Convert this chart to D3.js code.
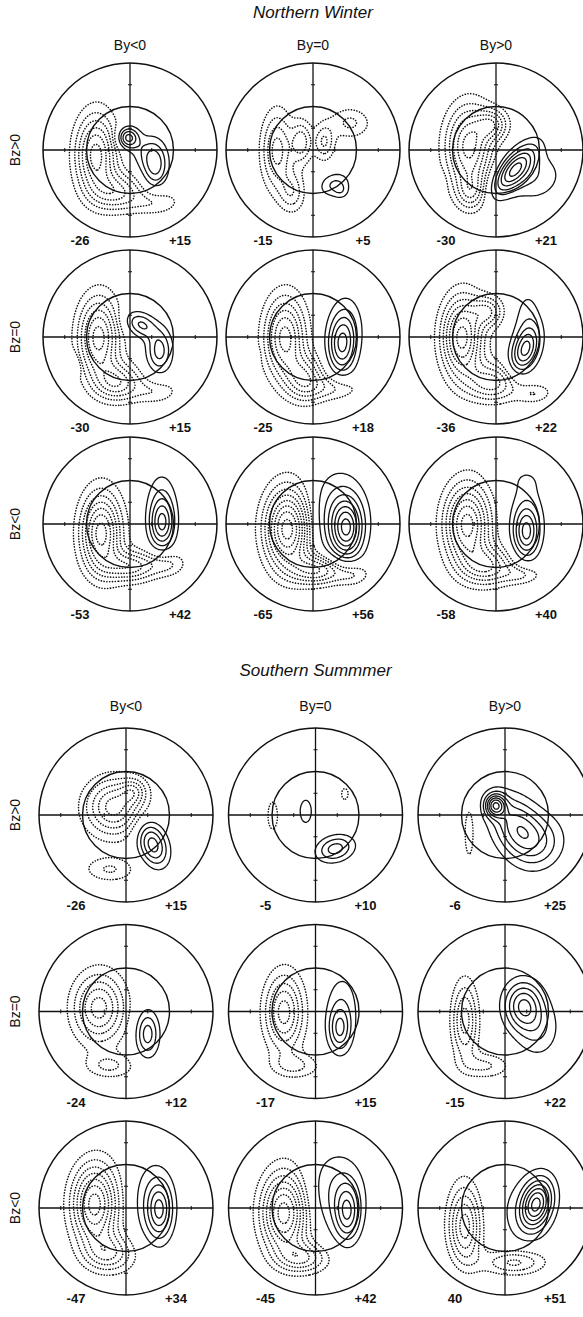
<!DOCTYPE html>
<html>
<head>
<meta charset="utf-8">
<script src="https://cdn.jsdelivr.net/npm/d3@7"></script>
<style>
  body { margin: 0; background: #fff; }
  text { font-family: "Liberation Sans", Arial, sans-serif; fill: #111; }
</style>
</head>
<body>
<svg id="chart" width="583" height="1317"></svg>
<script>
// ---- data -------------------------------------------------------------
const hemispheres = ["Northern Winter", "Southern Summmer"];
const byLabels = ["By<0", "By=0", "By>0"];
const bzLabels = ["Bz>0", "Bz=0", "Bz<0"];

// panel order: hemisphere, then Bz row, then By column
const minValues = [-26, -15, -30,  -30, -25, -36,  -53, -65, -58,
                   -26,  -5,  -6,  -24, -17, -15,  -47, -45, -40];
const minText   = ["-26", "-15", "-30", "-30", "-25", "-36", "-53", "-65", "-58",
                   "-26", "-5", "-6", "-24", "-17", "-15", "-47", "-45", "40"];
const maxValues = [15, 5, 21,  15, 18, 22,  42, 56, 40,
                   15, 10, 25, 12, 15, 22,  34, 42, 51];
const maxText = maxValues.map(v => "+" + v);

// number of drawn contours on each side of zero
const negCount = [6, 4, 6,  6, 6, 7,  7, 8, 7,   5, 1, 1,  5, 5, 4,  7, 7, 5];
const posCount = [4, 2, 6,  3, 5, 5,  5, 7, 5,   4, 3, 7,  3, 4, 5,  5, 5, 7];

// potential cells: [x (dusk +), y (noon +), sx, sy, tilt deg, weight]
// x, y in units of the outer (40 deg) rim
const cells = [
  // Northern winter, Bz>0
  [[-0.03, 0.15, 0.08, 0.08, 0, 1], [0.28, -0.17, 0.1, 0.17, 0, 0.8], [0.15, 0.0, 0.14, 0.14, 0, 0.3],
   [-0.4, -0.05, 0.16, 0.32, 0, -1], [-0.15, -0.48, 0.2, 0.15, 0, -0.6], [0.3, -0.6, 0.2, 0.1, 0, -0.3]],
  [[0.24, -0.39, 0.12, 0.09, 20, 1], [0.32, -0.47, 0.06, 0.06, 0, 0.5],
   [-0.42, 0, 0.12, 0.3, 0, -1], [-0.14, 0.1, 0.08, 0.16, 0, -0.8], [0.12, 0.1, 0.08, 0.14, 0, -0.7],
   [0.42, 0.32, 0.16, 0.12, 0, -0.5], [-0.25, -0.48, 0.1, 0.16, 0, -0.6]],
  [[0.2, -0.22, 0.1, 0.24, -40, 1], [0.42, -0.3, 0.25, 0.2, 0, 0.35], [-0.64, -0.33, 0.03, 0.07, 15, 0.25],
   [-0.32, 0.05, 0.18, 0.32, 0, -1], [-0.05, 0.3, 0.12, 0.12, 0, -0.6], [-0.3, -0.48, 0.12, 0.15, 0, -0.5]],
  // Northern winter, Bz=0
  [[0.12, 0.15, 0.13, 0.09, -30, 0.9], [0.33, -0.15, 0.1, 0.17, 0, 1], [-0.64, -0.28, 0.03, 0.08, 20, 0.45],
   [-0.37, 0, 0.16, 0.32, 0, -1], [-0.15, -0.52, 0.18, 0.15, 0, -0.7], [0.3, -0.62, 0.18, 0.1, 0, -0.3]],
  [[0.32, -0.1, 0.11, 0.22, 0, 1], [0.38, 0.15, 0.13, 0.25, 0, 0.4], [-0.67, -0.22, 0.03, 0.06, 0, 0.3],
   [-0.33, 0, 0.16, 0.32, 0, -1], [-0.1, -0.48, 0.15, 0.18, 0, -0.7], [0.25, -0.58, 0.2, 0.1, 0, -0.35]],
  [[0.32, -0.15, 0.1, 0.18, -20, 1], [0.36, 0.15, 0.12, 0.3, 0, 0.35],
   [-0.4, 0, 0.16, 0.32, 0, -1], [-0.05, -0.52, 0.2, 0.15, 0, -0.6], [0.45, -0.65, 0.15, 0.08, 0, -0.3],
   [-0.1, 0.3, 0.12, 0.12, 0, -0.5]],
  // Northern winter, Bz<0
  [[0.36, 0, 0.1, 0.19, 0, 1], [0.36, 0.3, 0.12, 0.24, 0, 0.35],
   [-0.34, -0.1, 0.16, 0.32, 0, -1], [0, -0.48, 0.2, 0.12, 0, -0.6], [0.42, -0.45, 0.15, 0.1, 0, -0.3]],
  [[0.38, -0.05, 0.12, 0.22, 0, 1], [0.3, 0.1, 0.22, 0.35, 0, 0.5],
   [-0.3, -0.05, 0.18, 0.32, 0, -1], [0.05, -0.52, 0.2, 0.12, 0, -0.6], [0.45, -0.57, 0.15, 0.1, 0, -0.3]],
  [[0.34, -0.1, 0.1, 0.19, 0, 1], [0.35, 0.1, 0.14, 0.28, 0, 0.4], [0.35, 0.55, 0.22, 0.13, 0, 0.15],
   [-0.34, 0, 0.18, 0.32, 0, -1], [-0.1, -0.48, 0.2, 0.15, 0, -0.6], [0.3, -0.57, 0.15, 0.08, 0, -0.3]],
  // Southern summer, Bz>0
  [[0.3, -0.33, 0.11, 0.18, 20, 1],
   [-0.15, 0.1, 0.22, 0.22, 0, -1], [0.08, 0.28, 0.1, 0.1, 0, -0.5], [-0.2, -0.62, 0.2, 0.1, 0, -0.4]],
  [[-0.12, 0.05, 0.06, 0.12, 0, 0.5], [0.22, -0.38, 0.15, 0.1, 15, 1],
   [-0.5, 0, 0.06, 0.17, 0, -1], [0.33, 0.25, 0.06, 0.1, 0, -0.8]],
  [[-0.12, 0.12, 0.08, 0.09, 0, 1], [0.12, -0.12, 0.18, 0.26, 30, 0.7], [0.38, -0.3, 0.22, 0.22, 0, 0.4],
   [-0.42, -0.2, 0.05, 0.27, 0, -1]],
  // Southern summer, Bz=0
  [[0.24, -0.25, 0.09, 0.18, 0, 1],
   [-0.32, 0.05, 0.2, 0.27, 0, -1], [-0.2, -0.62, 0.2, 0.1, 0, -0.4]],
  [[0.27, -0.2, 0.09, 0.18, 0, 1], [0.3, 0.1, 0.14, 0.28, 0, 0.4],
   [-0.37, 0, 0.15, 0.3, 0, -1], [-0.25, -0.62, 0.2, 0.1, 0, -0.4]],
  [[0.2, 0.08, 0.15, 0.19, 0, 1], [0.37, -0.2, 0.17, 0.22, 0, 0.4],
   [-0.47, -0.1, 0.1, 0.3, 0, -1], [-0.25, -0.62, 0.2, 0.1, 0, -0.5]],
  // Southern summer, Bz<0
  [[0.38, -0.02, 0.1, 0.22, 0, 1], [0.3, 0.1, 0.17, 0.33, 0, 0.4],
   [-0.37, 0.05, 0.18, 0.32, 0, -1], [-0.2, -0.52, 0.2, 0.15, 0, -0.5]],
  [[0.36, -0.05, 0.1, 0.22, 0, 1], [0.25, 0.2, 0.22, 0.33, 0, 0.5],
   [-0.37, -0.05, 0.18, 0.32, 0, -1], [-0.15, -0.57, 0.2, 0.12, 0, -0.5]],
  [[0.35, 0.05, 0.12, 0.2, -15, 1], [0.1, 0, 0.38, 0.38, 0, 0.12],
   [-0.47, -0.2, 0.13, 0.32, 0, -1], [0.1, -0.62, 0.25, 0.1, 0, -0.6]]
];

// ---- layout -----------------------------------------------------------
const R = 87;                       // outer rim radius (40 deg colatitude)
const blocks = [
  { titleY: 18,  byY: 50,  colRange: [130, 496], rowRange: [150, 524] },
  { titleY: 676, byY: 711, colRange: [126, 505], rowRange: [815, 1208] }
];

const svg = d3.select("#chart");
const ink = "#111";

// grid for the potential field
const N = 131, E = 1.03, step = 2 * E / (N - 1);

function potential(blobs, vmin, vmax) {
  const v = new Float64Array(N * N);
  const pre = blobs.map(b => {
    const th = b[4] * Math.PI / 180;
    return { x: b[0], y: b[1], sx: b[2], sy: b[3], c: Math.cos(th), s: Math.sin(th), w: b[5] };
  });
  let lo = 0, hi = 0;
  for (let j = 0; j < N; j++) {
    const y = E - j * step;
    for (let i = 0; i < N; i++) {
      const x = -E + i * step;
      const r = Math.hypot(x, y);
      const taper = r < 1 ? 1 - Math.pow(r, 8) : 0;
      let s = 0;
      for (const b of pre) {
        const dx = x - b.x, dy = y - b.y;
        const u = dx * b.c + dy * b.s;
        const w = -dx * b.s + dy * b.c;
        s += b.w * Math.exp(-(u * u / (2 * b.sx * b.sx) + w * w / (2 * b.sy * b.sy)));
      }
      s *= taper;
      v[j * N + i] = s;
      if (s < lo) lo = s;
      if (s > hi) hi = s;
    }
  }
  // scale each sign so the extremes equal the stated potentials
  for (let k = 0; k < v.length; k++) {
    v[k] = v[k] >= 0 ? (hi > 0 ? v[k] * vmax / hi : 0) : (lo < 0 ? v[k] * vmin / lo : 0);
  }
  return v;
}

blocks.forEach((blk, h) => {
  const colX = d3.scalePoint().domain(byLabels).range(blk.colRange);
  const rowY = d3.scalePoint().domain(bzLabels).range(blk.rowRange);

  svg.append("text")
    .attr("x", (blk.colRange[0] + blk.colRange[1]) / 2)
    .attr("y", blk.titleY)
    .attr("text-anchor", "middle")
    .attr("font-size", 17)
    .attr("font-style", "italic")
    .text(hemispheres[h]);

  byLabels.forEach(b => {
    svg.append("text")
      .attr("x", colX(b)).attr("y", blk.byY)
      .attr("text-anchor", "middle")
      .attr("font-size", 14)
      .text(b);
  });

  bzLabels.forEach(z => {
    svg.append("text")
      .attr("transform", `translate(20,${rowY(z)}) rotate(-90)`)
      .attr("text-anchor", "middle")
      .attr("font-size", 14)
      .text(z);
  });

  bzLabels.forEach((z, row) => {
    byLabels.forEach((b, col) => {
      const idx = h * 9 + row * 3 + col;
      const cx = colX(b), cy = rowY(z);
      const g = svg.append("g");

      const clipId = "clip" + idx;
      svg.append("clipPath").attr("id", clipId)
        .append("circle").attr("cx", cx).attr("cy", cy).attr("r", R);

      const vals = potential(cells[idx], minValues[idx], maxValues[idx]);
      const neg = Array.from(vals, d => -d);

      const gx = d3.scaleLinear().domain([0, N - 1]).range([cx - E * R, cx + E * R]);
      const gy = d3.scaleLinear().domain([0, N - 1]).range([cy - E * R, cy + E * R]);
      const path = d3.geoPath(d3.geoTransform({
        point(x, y) { this.stream.point(gx(x), gy(y)); }
      }));

      const nP = posCount[idx], nN = negCount[idx];
      const posLevels = d3.range(1, nP + 1).map(k => maxValues[idx] * k / (nP + 0.5));
      const negLevels = d3.range(1, nN + 1).map(k => -minValues[idx] * k / (nN + 0.5));

      const cg = g.append("g").attr("clip-path", `url(#${clipId})`).attr("fill", "none");

      cg.selectAll("path.neg")
        .data(d3.contours().size([N, N]).thresholds(negLevels)(neg))
        .join("path")
        .attr("class", "neg")
        .attr("d", path)
        .attr("stroke", ink)
        .attr("stroke-width", 1.6)
        .attr("stroke-linecap", "round")
        .attr("stroke-dasharray", "0.1,2.7");

      cg.selectAll("path.pos")
        .data(d3.contours().size([N, N]).thresholds(posLevels)(vals))
        .join("path")
        .attr("class", "pos")
        .attr("d", path)
        .attr("stroke", ink)
        .attr("stroke-width", 1.3)
        .attr("stroke-linejoin", "round");

      // rim, 20 deg circle, axes and 10/30 deg ticks
      g.append("circle").attr("cx", cx).attr("cy", cy).attr("r", R)
        .attr("fill", "none").attr("stroke", ink).attr("stroke-width", 1.5);
      g.append("circle").attr("cx", cx).attr("cy", cy).attr("r", R / 2)
        .attr("fill", "none").attr("stroke", ink).attr("stroke-width", 1.4);
      g.append("line").attr("x1", cx - R).attr("x2", cx + R).attr("y1", cy).attr("y2", cy)
        .attr("stroke", ink).attr("stroke-width", 1.3);
      g.append("line").attr("x1", cx).attr("x2", cx).attr("y1", cy - R).attr("y2", cy + R)
        .attr("stroke", ink).attr("stroke-width", 1.3);
      [0.25, 0.75].forEach(f => {
        [-1, 1].forEach(sg => {
          g.append("line").attr("x1", cx + sg * f * R).attr("x2", cx + sg * f * R)
            .attr("y1", cy - 2).attr("y2", cy + 2).attr("stroke", ink).attr("stroke-width", 1);
          g.append("line").attr("y1", cy + sg * f * R).attr("y2", cy + sg * f * R)
            .attr("x1", cx - 2).attr("x2", cx + 2).attr("stroke", ink).attr("stroke-width", 1);
        });
      });

      // extreme potentials
      g.append("text").attr("x", cx - 50).attr("y", cy + 95)
        .attr("text-anchor", "middle").attr("font-size", 13).attr("font-weight", "bold")
        .text(minText[idx]);
      g.append("text").attr("x", cx + 50).attr("y", cy + 95)
        .attr("text-anchor", "middle").attr("font-size", 13).attr("font-weight", "bold")
        .text(maxText[idx]);
    });
  });
});
</script>
</body>
</html>
